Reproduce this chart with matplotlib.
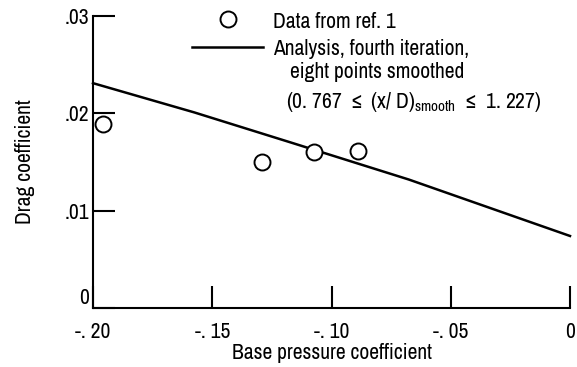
import matplotlib
matplotlib.use("Agg")
import matplotlib.pyplot as plt
from matplotlib import font_manager

# prefer a narrow face if one is around
narrow = None
for f in font_manager.fontManager.ttflist:
    if ('Narrow' in f.name or 'Condensed' in f.name) and f.style == 'normal':
        narrow = f.name
        break
if narrow is None:
    for f in font_manager.fontManager.ttflist:
        if f.stretch in ('condensed', 'semi-condensed') and f.style == 'normal':
            narrow = f.name
            break
fam = [narrow, 'DejaVu Sans'] if narrow else ['DejaVu Sans']
plt.rcParams['font.family'] = fam
plt.rcParams['mathtext.fontset'] = 'custom'
plt.rcParams['mathtext.rm'] = fam[0]

# experimental points (ref. 1)
data_cp = [-0.196, -0.129, -0.1075, -0.089]
data_cd = [0.0189, 0.0150, 0.0160, 0.0161]

# analysis curve, fourth iteration
curve_cp = [-0.200, -0.1576, -0.117, -0.0676, 0.0]
curve_cd = [0.0231, 0.0201, 0.0170, 0.0132, 0.0074]

xticks = [-0.20, -0.15, -0.10, -0.05, 0.0]
xticklabels = ['-. 20', '-. 15', '-. 10', '-. 05', '0']
yticks = [0.0, 0.01, 0.02, 0.03]
yticklabels = ['0', '.01', '.02', '.03']

fs = 15.5 if narrow else 11

fig = plt.figure(figsize=(5.77, 3.67), dpi=100)
ax = fig.add_axes([93/577, 1 - 308/367, 477/577, 292/367])

ax.plot(curve_cp, curve_cd, color='black', lw=1.8, clip_on=False)
ax.plot(data_cp, data_cd, 'o', mfc='white', mec='black', ms=11.5, mew=1.4,
        clip_on=False, zorder=3)

ax.set_xlim(-0.20, 0.0)
ax.set_ylim(0.0, 0.03)
ax.set_xticks(xticks)
ax.set_xticklabels(xticklabels)
ax.set_yticks(yticks)
ax.set_yticklabels(yticklabels)
# the zero label sits on the axis line rather than centred on it
ax.get_yticklabels()[0].set_verticalalignment('bottom')

for s in ['top', 'right']:
    ax.spines[s].set_visible(False)
for s in ['left', 'bottom']:
    ax.spines[s].set_linewidth(1.5)
ax.tick_params(direction='in', length=16, width=1.5, labelsize=fs, pad=3)
ax.tick_params(axis='x', pad=10)

ax.set_xlabel('Base pressure coefficient', fontsize=fs, labelpad=1)
ax.set_ylabel('Drag coefficient', fontsize=fs, labelpad=21)

# legend drawn by hand so the label can wrap with indents
ax.plot([0.283], [0.990], 'o', mfc='white', mec='black', ms=11.5, mew=1.4,
        transform=ax.transAxes, clip_on=False)
ax.plot([0.2075, 0.356], [0.894, 0.894], color='black', lw=1.8,
        transform=ax.transAxes, clip_on=False)
ax.text(0.377, 0.959, 'Data from ref. 1', transform=ax.transAxes,
        fontsize=fs, va='baseline')
ax.text(0.377, 0.866, 'Analysis, fourth iteration,', transform=ax.transAxes,
        fontsize=fs, va='baseline')
ax.text(0.413, 0.788, 'eight points smoothed', transform=ax.transAxes,
        fontsize=fs, va='baseline')
ax.text(0.405, 0.685,
        r'(0. 767 $\leq$ (x/ D)$_{\mathrm{smooth}}$ $\leq$ 1. 227)',
        transform=ax.transAxes, fontsize=fs, va='baseline')

fig.savefig('out.png', dpi=100)
